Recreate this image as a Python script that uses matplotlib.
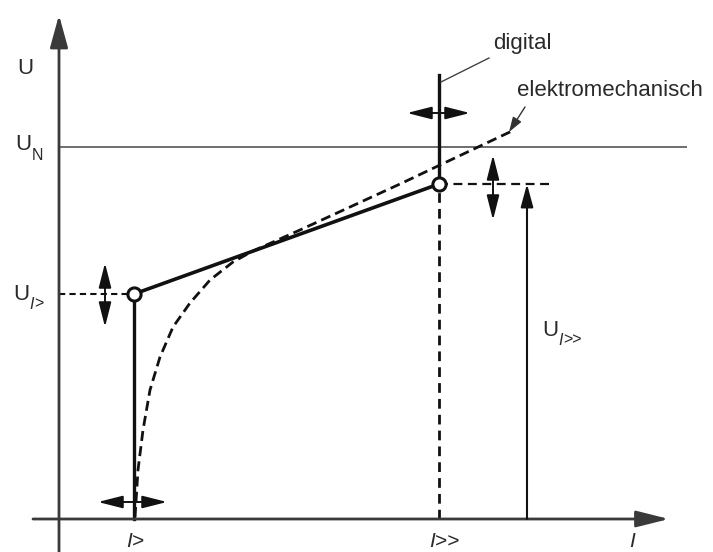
import matplotlib
matplotlib.use("Agg")
import matplotlib.pyplot as plt

plt.rcParams["font.family"] = ["Liberation Sans", "DejaVu Sans"]

# --- characteristic values (I along x, U along y, common drawing units) ---
I_ansprech = 75        # I>
I_schnell = 380        # I>>
U_ansprech = 225       # U_I>
U_schnell = 335        # U_I>>
U_nenn = 372           # U_N
U_digital_top = 444    # upper end of the digital setting line

# electromechanical characteristic (dashed curve)
em_I = [76, 79, 84, 91, 101, 114, 131, 151, 174, 194, 241, 291, 341, 381, 453]
em_U = [2, 49, 89, 129, 162, 192, 216, 239, 257, 268, 289, 312, 335, 354, 388]

# axis captions
label_U = "U"
label_I = "I"
label_UN = ("U", "N")
label_Uansprech = ("U", "I>")
label_Uschnell = ("U", "I>>")
label_Iansprech = "I>"
label_Ischnell = "I>>"
label_digital = "digital"
label_em = "elektromechanisch"

INK = "#111111"
AX = "#3a3a3a"
TXT = "#2a2a2a"
FS = 16

fig = plt.figure(figsize=(7.13, 5.52), dpi=100)
ax = fig.add_axes([0, 0, 1, 1])
ax.set_xlim(-59, 654)
ax.set_ylim(-33, 519)
ax.axis("off")


def arrow(p0, p1, style, lw=1.4, color=INK, ms=10):
    ax.annotate("", xy=p1, xytext=p0,
                arrowprops=dict(arrowstyle=style, lw=lw, color=color,
                                shrinkA=0, shrinkB=0, mutation_scale=ms))


# coordinate axes
arrow((0, -33), (0, 504), "-|>,head_length=2.0,head_width=0.55", lw=2.0, color=AX)
arrow((-26, 0), (610, 0), "-|>,head_length=2.0,head_width=0.5", lw=2.0, color=AX)

# nominal voltage line
ax.plot([0, 628], [U_nenn, U_nenn], color="#555555", lw=1.2, solid_capstyle="butt")

# electromechanical characteristic
ax.plot(em_I, em_U, color=INK, lw=2.0, dashes=(3.6, 1.9), solid_capstyle="butt")

# digital characteristic
ax.plot([I_ansprech, I_ansprech], [0, U_ansprech], color=INK, lw=2.4)
ax.plot([I_ansprech, I_schnell], [U_ansprech, U_schnell], color=INK, lw=2.6)
ax.plot([I_schnell, I_schnell], [U_schnell, U_digital_top], color=INK, lw=2.4)

# projections of the setting points
ax.plot([0, I_ansprech], [U_ansprech, U_ansprech], color=INK, lw=1.5, dashes=(3, 2))
ax.plot([I_schnell, I_schnell], [0, U_schnell], color=INK, lw=2.0, dashes=(3.5, 2.2))
ax.plot([I_schnell, 493], [U_schnell, U_schnell], color=INK, lw=1.6, dashes=(4, 2.5))

# setting points
ax.plot([I_ansprech, I_schnell], [U_ansprech, U_schnell], ls="none", marker="o",
        ms=9.5, mfc="white", mec=INK, mew=2.2, zorder=5)

# adjustment arrows
dbl = "<|-|>,head_length=1.5,head_width=0.38"
arrow((46, 192), (46, 256), dbl)
arrow((39, 17), (108, 17), dbl)
arrow((348, 406), (411, 406), dbl)
arrow((434, 299), (434, 364), dbl)

# U_I>> dimension arrow
arrow((468, 0), (468, U_schnell), "-|>,head_length=1.4,head_width=0.38", lw=1.5)

# leader lines
ax.plot([382, 430], [437, 461], color="#444444", lw=1.0)
arrow((466, 412), (450, 387), "-|>,head_length=0.9,head_width=0.3", lw=1.0, color="#333333")

# texts
ax.text(-42, 451, label_U, fontsize=FS, color=TXT, ha="left", va="center")


def sub_label(x, y, main, sub, italic_first=False):
    t = ax.text(x, y, main, fontsize=FS, color=TXT, ha="left", va="center")
    if italic_first:
        a = ax.annotate(sub[0], xy=(1, 0), xycoords=t, xytext=(0.5, -3),
                        textcoords="offset points", fontsize=FS * 0.72,
                        color=TXT, style="italic", ha="left", va="baseline")
        ax.annotate(sub[1:], xy=(1, 0), xycoords=a, xytext=(0.3, 0),
                    textcoords="offset points", fontsize=FS * 0.72,
                    color=TXT, ha="left", va="bottom")
    else:
        ax.annotate(sub, xy=(1, 0), xycoords=t, xytext=(0.5, -3),
                    textcoords="offset points", fontsize=FS * 0.72,
                    color=TXT, ha="left", va="baseline")


sub_label(-44, 374, *label_UN)
sub_label(-46, U_ansprech, *label_Uansprech, italic_first=True)
sub_label(483, 189, *label_Uschnell, italic_first=True)

ax.text(434, 476, label_digital, fontsize=FS, color=TXT, ha="left", va="center")
ax.text(458, 429, label_em, fontsize=FS, color=TXT, ha="left", va="center")

for xpos, lab in [(76, label_Iansprech), (385, label_Ischnell), (573, label_I)]:
    ax.text(xpos, -13, lab, fontsize=FS - 1, color=TXT, ha="center", va="top",
            style="italic")

fig.savefig("out.png", dpi=100)
